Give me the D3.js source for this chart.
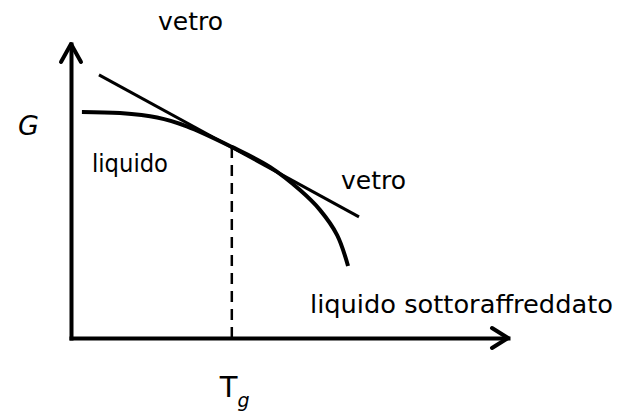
<!DOCTYPE html>
<html>
<head>
<meta charset="utf-8">
<script src="https://cdn.jsdelivr.net/npm/d3@7"></script>
<style>
  body { margin: 0; background: #fff; }
  svg text { font-family: "DejaVu Sans", sans-serif; fill: #000; }
</style>
</head>
<body>
<div id="chart"></div>
<script>
// G vs T, both axes normalised 0..1
let liquidT = [0.025, 0.112, 0.197, 0.265, 0.368, 0.455, 0.524, 0.570, 0.609, 0.634];
let liquidG = [0.769, 0.765, 0.750, 0.720, 0.650, 0.582, 0.503, 0.435, 0.350, 0.245];
let glassT = [0.064, 0.659];
let glassG = [0.895, 0.412];
let tg = 0.368;
let tgG = 0.650;

let width = 622, height = 416;
let x0 = 71, y0 = 338;

let svg = d3.select("#chart").append("svg")
    .attr("width", width)
    .attr("height", height);

let xScale = d3.scaleLinear().domain([0, 1]).range([x0, 508]);
let yScale = d3.scaleLinear().domain([0, 1]).range([y0, 44]);

// axes without ticks, just the domain line
let xAxis = d3.axisBottom(xScale).tickValues([]).tickSizeOuter(0);
let yAxis = d3.axisLeft(yScale).tickValues([]).tickSizeOuter(0);

svg.append("g").attr("transform", "translate(0," + y0 + ")").call(xAxis);
svg.append("g").attr("transform", "translate(" + x0 + ",0)").call(yAxis);
svg.selectAll(".domain")
    .attr("stroke", "#000")
    .attr("stroke-width", 4)
    .attr("stroke-linecap", "square");

// arrow heads
let ah = 16, aw = 10;
svg.append("path")
    .attr("d", "M" + (xScale(1) - ah) + "," + (y0 - aw) + "L" + xScale(1) + "," + y0 + "L" + (xScale(1) - ah) + "," + (y0 + aw))
    .attr("fill", "none").attr("stroke", "#000").attr("stroke-width", 4)
    .attr("stroke-linecap", "round").attr("stroke-linejoin", "round");
svg.append("path")
    .attr("d", "M" + (x0 - aw) + "," + (yScale(1) + ah + 2) + "L" + x0 + "," + yScale(1) + "L" + (x0 + aw) + "," + (yScale(1) + ah + 2))
    .attr("fill", "none").attr("stroke", "#000").attr("stroke-width", 4)
    .attr("stroke-linecap", "round").attr("stroke-linejoin", "round");

// Tg dashed line
svg.append("line")
    .attr("x1", xScale(tg)).attr("x2", xScale(tg))
    .attr("y1", yScale(tgG)).attr("y2", yScale(0))
    .attr("stroke", "#000").attr("stroke-width", 2.5)
    .attr("stroke-dasharray", "11,7");

// glass line
let glass = glassT.map((t, i) => ({t: t, g: glassG[i]}));
svg.append("path")
    .datum(glass)
    .attr("fill", "none")
    .attr("stroke", "#000")
    .attr("stroke-width", 3)
    .attr("d", d3.line().x(d => xScale(d.t)).y(d => yScale(d.g)));

// liquid curve
let liquid = liquidT.map((t, i) => ({t: t, g: liquidG[i]}));
svg.append("path")
    .datum(liquid)
    .attr("fill", "none")
    .attr("stroke", "#000")
    .attr("stroke-width", 4)
    .attr("d", d3.line().curve(d3.curveCatmullRom).x(d => xScale(d.t)).y(d => yScale(d.g)));

// labels
function label(txt, x, y, size, len) {
  let t = svg.append("text")
      .attr("x", x).attr("y", y)
      .attr("font-size", size)
      .text(txt);
  if (len) t.attr("textLength", len).attr("lengthAdjust", "spacingAndGlyphs");
  return t;
}
label("vetro", 158, 30, 25, 65);
label("G", 18, 135, 27).attr("font-style", "italic");
label("liquido", 92, 172, 25, 76);
label("vetro", 341, 189, 25, 65);
label("liquido sottoraffreddato", 310, 313, 25, 303);

let tgLabel = svg.append("text")
    .attr("x", xScale(tg) - 12).attr("y", 397)
    .attr("font-size", 29);
tgLabel.append("tspan").text("T");
tgLabel.append("tspan").attr("font-size", 19).attr("dy", 10).attr("font-style", "italic").text("g");
</script>
</body>
</html>
